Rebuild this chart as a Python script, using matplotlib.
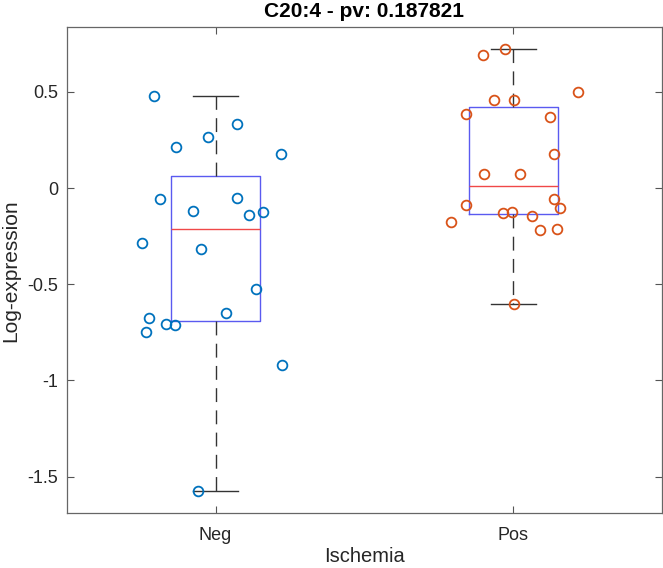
import numpy as np
import matplotlib.pyplot as plt

plt.rcParams['font.family'] = ['Liberation Sans', 'DejaVu Sans']

groups = ['Neg', 'Pos']
title = 'C20:4 - pv: 0.187821'

# log-expression values
neg_vals = [0.479, 0.332, 0.265, 0.213, 0.177, -0.059, -0.050, -0.118, -0.139, -0.126,
            -0.287, -0.317, -0.523, -0.648, -0.677, -0.706, -0.713, -0.750, -0.921, -1.574]
neg_jit = [-0.206, 0.071, -0.026, -0.132, 0.219, -0.188, 0.071, -0.076, 0.113, 0.159,
           -0.246, -0.048, 0.135, 0.035, -0.224, -0.168, -0.136, -0.234, 0.223, -0.058]

pos_vals = [0.722, 0.693, 0.500, 0.457, 0.457, 0.383, 0.367, 0.177, 0.074, 0.074,
            -0.087, -0.057, -0.102, -0.130, -0.123, -0.145, -0.177, -0.220, -0.213, -0.604]
pos_jit = [-0.029, -0.102, 0.216, -0.065, 0.004, -0.157, 0.124, 0.136, -0.098, 0.022,
           -0.157, 0.137, 0.156, -0.033, -0.005, 0.063, -0.209, 0.091, 0.146, 0.003]

point_colors = ['#0072BD', '#D95319']


def box_stats(v):
    # matlab-style quartiles
    v = np.asarray(v)
    q1, med, q3 = np.percentile(v, [25, 50, 75], method='hazen')
    iqr = q3 - q1
    lo = v[v >= q1 - 1.5 * iqr].min()
    hi = v[v <= q3 + 1.5 * iqr].max()
    return dict(med=med, q1=q1, q3=q3, whislo=lo, whishi=hi, fliers=[])


fig = plt.figure(figsize=(6.63, 5.68), dpi=100)
ax = fig.add_axes([0.1006, 0.0963, 0.898, 0.8556])

stats = [box_stats(neg_vals), box_stats(pos_vals)]
ax.bxp(stats, positions=[1, 2], widths=0.3, capwidths=0.15, showfliers=False,
       boxprops=dict(color='#5a5af0', lw=1.0),
       medianprops=dict(color='#f04848', lw=1.0),
       whiskerprops=dict(color='#333333', lw=1.0, linestyle=(0, (10, 6))),
       capprops=dict(color='#333333', lw=1.0))

for i, (vals, jit) in enumerate([(neg_vals, neg_jit), (pos_vals, pos_jit)]):
    xs = i + 1 + np.array(jit)
    ax.plot(xs, vals, 'o', mfc='none', mec=point_colors[i], mew=1.3, ms=7, zorder=5)

ax.set_xlim(0.5, 2.5)
ax.set_ylim(-1.69, 0.835)
ax.set_xticks([1, 2])
ax.set_xticklabels(groups)
ax.set_yticks([-1.5, -1, -0.5, 0, 0.5])
ax.set_yticklabels(['-1.5', '-1', '-0.5', '0', '0.5'])
ax.tick_params(direction='in', length=5, width=0.8, color='#555555',
               labelsize=13, labelcolor='#262626', top=True, right=True, pad=6)
ax.tick_params(axis='x', pad=10)
for s in ax.spines.values():
    s.set_color('#666666')
    s.set_linewidth(0.9)

ax.set_xlabel('Ischemia', fontsize=14.5, color='#262626', labelpad=2)
ax.set_ylabel('Log-expression', fontsize=15, color='#262626', labelpad=5)
ax.set_title(title, fontsize=15, fontweight='bold', pad=7.5)

fig.savefig('out.png', dpi=100)
